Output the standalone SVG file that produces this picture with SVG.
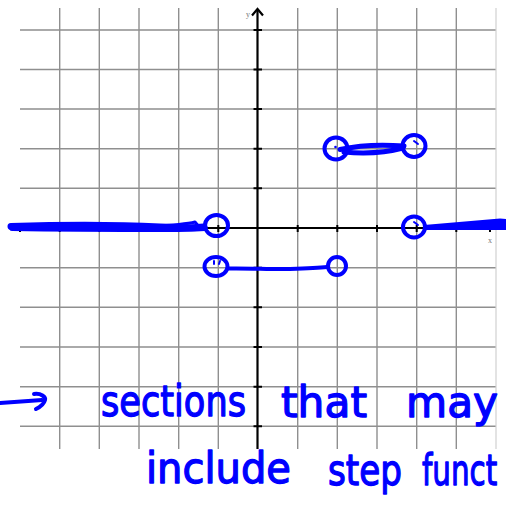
<svg xmlns="http://www.w3.org/2000/svg" width="506" height="507" viewBox="0 0 506 507">
<style>
.grid{stroke:#8f8f8f;stroke-width:1.4;fill:none}
.edge{stroke:#d0d0d0;stroke-width:1.2}
.axis{stroke:#000;stroke-width:2.2;fill:none}
.tick{stroke:#000;stroke-width:2}
.ink{stroke:#0000ff;fill:none;stroke-linecap:round;stroke-linejoin:round}
.hand{font-family:"DejaVu Sans","Liberation Sans",sans-serif;font-size:42px;fill:#0000ff;stroke:#0000ff;stroke-width:1.3;stroke-linejoin:round}
.lbl{font-family:"Liberation Serif",serif;font-size:8px;fill:#777}
</style>
<rect width="506" height="507" fill="#fff"/>
<g id="grid">
<path class="grid" d="M59.7 8V449M99.3 8V449M139 8V449M178.7 8V449M218.3 8V449M297.7 8V449M337.3 8V449M377 8V449M416.7 8V449M456.3 8V449"/>
<path class="grid" d="M20 30H496M20 69.5H496M20 109H496M20 148.7H496M20 188.3H496M20 267.7H496M20 307.3H496M20 347H496M20 386.7H496M20 426.3H496"/>
<path class="edge" d="M496 8V449"/>
</g>
<g id="axes">
<path class="axis" d="M20 228H492"/>
<path class="axis" d="M257.5 449V9"/>
<path class="axis" d="M252 15.5L257.5 9L263 15.5"/>
<path class="tick" d="M20 225V232M59.7 225V232M99.3 225V232M139 225V232M178.7 225V232M218.3 225V232M297.7 225V232M337.3 225V232M377 225V232M416.7 225V232M456.3 225V232M490 225V232"/>
<path class="tick" d="M253.5 30H262M253.5 69.5H262M253.5 109H262M253.5 148.7H262M253.5 188.3H262M253.5 267.7H262M253.5 307.3H262M253.5 347H262M253.5 386.7H262M253.5 426.3H262"/>
<text class="lbl" x="246" y="17">y</text>
<text class="lbl" x="488" y="243">x</text>
</g>
<g id="step-left">
<path class="ink" stroke-width="7" d="M11 226.5C60 225 120 225 160 227C180 228 195 228 204 227"/>
<path class="ink" stroke-width="5" d="M12 228.5C70 229.5 130 229.5 170 229.5C185 229.5 195 229 205 228.5"/>
<path class="ink" stroke-width="3" d="M120 228.5C150 226 180 226 195 222L200 228"/>
<ellipse id="c1" class="ink" stroke-width="4" cx="216.5" cy="225.5" rx="11.5" ry="10.5"/>
</g>
<g id="step-mid">
<ellipse class="ink" stroke-width="4" cx="216" cy="266.5" rx="11.5" ry="9.5"/>
<path class="ink" stroke-width="4" d="M228 268.5C250 268 270 269.5 290 269C305 268.5 318 268 327 267"/>
<circle class="ink" stroke-width="4" cx="337" cy="266" r="9"/>
<path class="ink" stroke-width="2" d="M214 261V264M220 261L219 264"/>
</g>
<g id="step-top">
<ellipse class="ink" stroke-width="4" cx="336" cy="148.5" rx="11.5" ry="11"/>
<ellipse class="ink" stroke-width="4" cx="414" cy="146" rx="11.5" ry="11"/>
<path class="ink" stroke-width="5" d="M340 149.5C360 145 385 144.5 404 146"/>
<path class="ink" stroke-width="5" d="M344 152C365 154 388 152 403 148"/>
<circle cx="335.5" cy="147" r="1.3" fill="#0000ff"/>
<path class="ink" stroke-width="2" d="M414 141L418 144"/>
</g>
<g id="step-right">
<ellipse class="ink" stroke-width="4" cx="414" cy="227" rx="11" ry="10.5"/>
<path fill="#0000ff" d="M424 225L500 218.5L506 219V230L424 230Z"/>
<path class="ink" stroke-width="2" d="M414 222L418 225"/>
</g>
<g id="note">
<path class="ink" stroke-width="4" d="M0 403C15 402 28 401 42 400"/>
<path class="ink" stroke-width="4" d="M34 394C41 393 46 397 45 400C44 404 40 407 36 409"/>
<text class="hand" x="101" y="416" textLength="145" lengthAdjust="spacingAndGlyphs">sections</text>
<text class="hand" x="281" y="417" textLength="86" lengthAdjust="spacingAndGlyphs">that</text>
<text class="hand" x="406" y="417" textLength="92" lengthAdjust="spacingAndGlyphs">may</text>
<text class="hand" x="146" y="483" textLength="145" lengthAdjust="spacingAndGlyphs">include</text>
<text class="hand" x="328" y="485" textLength="74" lengthAdjust="spacingAndGlyphs">step</text>
<text class="hand" transform="translate(422 485) scale(0.7 1)" x="0" y="0">funct</text>
</g>
</svg>
